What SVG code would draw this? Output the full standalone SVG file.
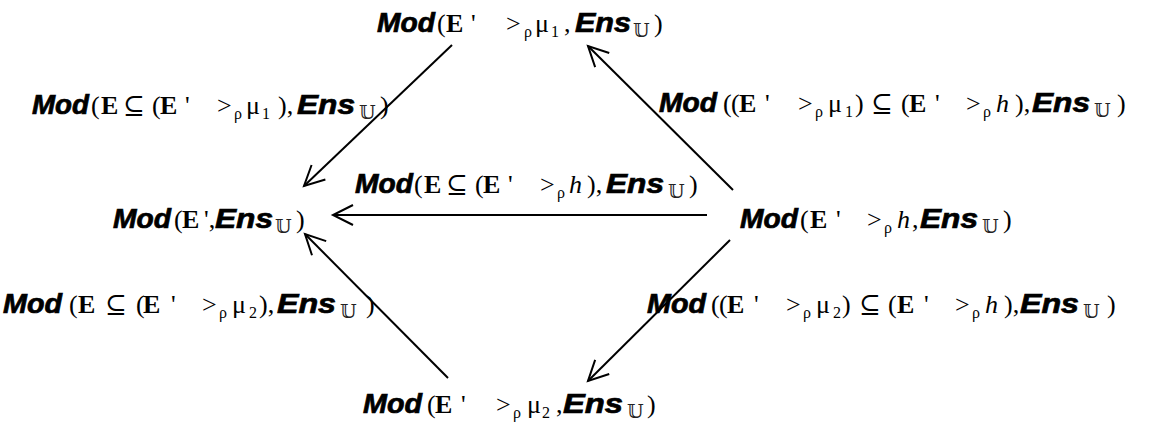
<svg xmlns="http://www.w3.org/2000/svg" width="1155" height="426" viewBox="0 0 1155 426">
<style>
.m{font-family:"Liberation Sans",Arial,sans-serif;font-weight:bold;font-style:italic;font-size:27px;fill:#000;stroke:#000;stroke-width:0.7}
.s{font-family:"Liberation Serif","DejaVu Serif",serif;font-size:26px;fill:#000}
.b{font-weight:bold}
.i{font-style:italic}
.sb{font-size:16px}
.u{font-family:"DejaVu Serif","DejaVu Sans",serif;font-size:19px;fill:#222}
.c{stroke:#000;stroke-width:2;fill:none}
</style>
<defs>
<marker id="ah" markerUnits="userSpaceOnUse" markerWidth="30" markerHeight="30" viewBox="-25 -15 30 30" refX="0" refY="0" orient="auto">
<path d="M-20,-10 L0,0 L-20,10" fill="none" stroke="#000" stroke-width="2"/>
</marker>
</defs>
<rect width="1155" height="426" fill="#fff"/>
<g id="connectors">
<line class="c" x1="452" y1="45" x2="304" y2="186" marker-end="url(#ah)"/>
<line class="c" x1="733" y1="190" x2="588" y2="46" marker-end="url(#ah)"/>
<line class="c" x1="707" y1="215" x2="333" y2="215" marker-end="url(#ah)"/>
<line class="c" x1="448" y1="378" x2="305" y2="234" marker-end="url(#ah)"/>
<line class="c" x1="730" y1="240" x2="588" y2="381" marker-end="url(#ah)"/>
</g>
<g id="node-top">
<text class="m" x="377" y="32" textLength="58" lengthAdjust="spacingAndGlyphs">Mod</text>
<text class="s" y="32"><tspan x="437">(</tspan><tspan class="b" x="446">E</tspan><tspan x="471">'</tspan><tspan x="506">&gt;</tspan><tspan class="sb" x="524" y="37">ρ</tspan><tspan x="535" y="32">μ</tspan><tspan class="sb" x="551" y="37">1</tspan><tspan x="564" y="32">,</tspan></text>
<text class="m" x="575" y="32" textLength="56" lengthAdjust="spacingAndGlyphs">Ens</text>
<text class="u" x="633" y="37">𝕌</text>
<text class="s" x="654" y="32">)</text>
</g>
<g id="label-left-top">
<text class="m" x="32" y="114" textLength="57" lengthAdjust="spacingAndGlyphs">Mod</text>
<text class="s" y="114"><tspan x="91">(</tspan><tspan class="b" x="101">E</tspan><tspan x="123">⊆</tspan><tspan x="152">(</tspan><tspan class="b" x="160">E</tspan><tspan x="185">'</tspan><tspan x="217">&gt;</tspan><tspan class="sb" x="234" y="119">ρ</tspan><tspan x="246" y="114">μ</tspan><tspan class="sb" x="262" y="119">1</tspan><tspan x="278" y="114">),</tspan></text>
<text class="m" x="297" y="114" textLength="58" lengthAdjust="spacingAndGlyphs">Ens</text>
<text class="u" x="359" y="119">𝕌</text>
<text class="s" x="380" y="114">)</text>
</g>
<g id="label-right-top">
<text class="m" x="659" y="112" textLength="58" lengthAdjust="spacingAndGlyphs">Mod</text>
<text class="s" y="112"><tspan x="723">(</tspan><tspan x="731">(</tspan><tspan class="b" x="739">E</tspan><tspan x="765">'</tspan><tspan x="798">&gt;</tspan><tspan class="sb" x="815" y="117">ρ</tspan><tspan x="828" y="112">μ</tspan><tspan class="sb" x="845" y="117">1</tspan><tspan x="855" y="112">)</tspan><tspan x="871">⊆</tspan><tspan x="901">(</tspan><tspan class="b" x="909">E</tspan><tspan x="935">'</tspan><tspan x="966">&gt;</tspan><tspan class="sb" x="983" y="117">ρ</tspan><tspan class="i" x="996" y="112">h</tspan><tspan x="1015">),</tspan></text>
<text class="m" x="1032" y="112" textLength="58" lengthAdjust="spacingAndGlyphs">Ens</text>
<text class="u" x="1094" y="117">𝕌</text>
<text class="s" x="1117" y="112">)</text>
</g>
<g id="label-middle">
<text class="m" x="355" y="193" textLength="58" lengthAdjust="spacingAndGlyphs">Mod</text>
<text class="s" y="193"><tspan x="414">(</tspan><tspan class="b" x="424">E</tspan><tspan x="446">⊆</tspan><tspan x="475">(</tspan><tspan class="b" x="483">E</tspan><tspan x="508">'</tspan><tspan x="540">&gt;</tspan><tspan class="sb" x="557" y="198">ρ</tspan><tspan class="i" x="569" y="193">h</tspan><tspan x="587">),</tspan></text>
<text class="m" x="606" y="193" textLength="58" lengthAdjust="spacingAndGlyphs">Ens</text>
<text class="u" x="668" y="198">𝕌</text>
<text class="s" x="689" y="193">)</text>
</g>
<g id="node-left">
<text class="m" x="113" y="228" textLength="58" lengthAdjust="spacingAndGlyphs">Mod</text>
<text class="s" y="228"><tspan x="174">(</tspan><tspan class="b" x="182">E</tspan><tspan x="204">',</tspan></text>
<text class="m" x="215" y="228" textLength="58" lengthAdjust="spacingAndGlyphs">Ens</text>
<text class="u" x="275" y="233">𝕌</text>
<text class="s" x="296" y="228">)</text>
</g>
<g id="node-right">
<text class="m" x="740" y="228" textLength="58" lengthAdjust="spacingAndGlyphs">Mod</text>
<text class="s" y="228"><tspan x="800">(</tspan><tspan class="b" x="810">E</tspan><tspan x="836">'</tspan><tspan x="867">&gt;</tspan><tspan class="sb" x="884" y="233">ρ</tspan><tspan class="i" x="897" y="228">h</tspan><tspan x="912">,</tspan></text>
<text class="m" x="920" y="228" textLength="58" lengthAdjust="spacingAndGlyphs">Ens</text>
<text class="u" x="982" y="233">𝕌</text>
<text class="s" x="1003" y="228">)</text>
</g>
<g id="label-left-bottom">
<text class="m" x="3" y="313" textLength="59" lengthAdjust="spacingAndGlyphs">Mod</text>
<text class="s" y="313"><tspan x="69">(</tspan><tspan class="b" x="78">E</tspan><tspan x="105">⊆</tspan><tspan x="136">(</tspan><tspan class="b" x="143">E</tspan><tspan x="171">'</tspan><tspan x="202">&gt;</tspan><tspan class="sb" x="219" y="318">ρ</tspan><tspan x="232" y="313">μ</tspan><tspan class="sb" x="249" y="318">2</tspan><tspan x="259" y="313">),</tspan></text>
<text class="m" x="277" y="313" textLength="59" lengthAdjust="spacingAndGlyphs">Ens</text>
<text class="u" x="340" y="318">𝕌</text>
<text class="s" x="366" y="313">)</text>
</g>
<g id="label-right-bottom">
<text class="m" x="647" y="313" textLength="59" lengthAdjust="spacingAndGlyphs">Mod</text>
<text class="s" y="313"><tspan x="711">(</tspan><tspan x="719">(</tspan><tspan class="b" x="727">E</tspan><tspan x="754">'</tspan><tspan x="786">&gt;</tspan><tspan class="sb" x="803" y="318">ρ</tspan><tspan x="816" y="313">μ</tspan><tspan class="sb" x="833" y="318">2</tspan><tspan x="842" y="313">)</tspan><tspan x="859">⊆</tspan><tspan x="888">(</tspan><tspan class="b" x="897">E</tspan><tspan x="924">'</tspan><tspan x="955">&gt;</tspan><tspan class="sb" x="972" y="318">ρ</tspan><tspan class="i" x="985" y="313">h</tspan><tspan x="1004">),</tspan></text>
<text class="m" x="1020" y="313" textLength="59" lengthAdjust="spacingAndGlyphs">Ens</text>
<text class="u" x="1083" y="318">𝕌</text>
<text class="s" x="1107" y="313">)</text>
</g>
<g id="node-bottom">
<text class="m" x="363" y="413" textLength="59" lengthAdjust="spacingAndGlyphs">Mod</text>
<text class="s" y="413"><tspan x="427">(</tspan><tspan class="b" x="435">E</tspan><tspan x="461">'</tspan><tspan x="496">&gt;</tspan><tspan class="sb" x="513" y="418">ρ</tspan><tspan x="527" y="413">μ</tspan><tspan class="sb" x="542" y="418">2</tspan><tspan x="556" y="413">,</tspan></text>
<text class="m" x="563" y="413" textLength="60" lengthAdjust="spacingAndGlyphs">Ens</text>
<text class="u" x="627" y="418">𝕌</text>
<text class="s" x="647" y="413">)</text>
</g>
</svg>
